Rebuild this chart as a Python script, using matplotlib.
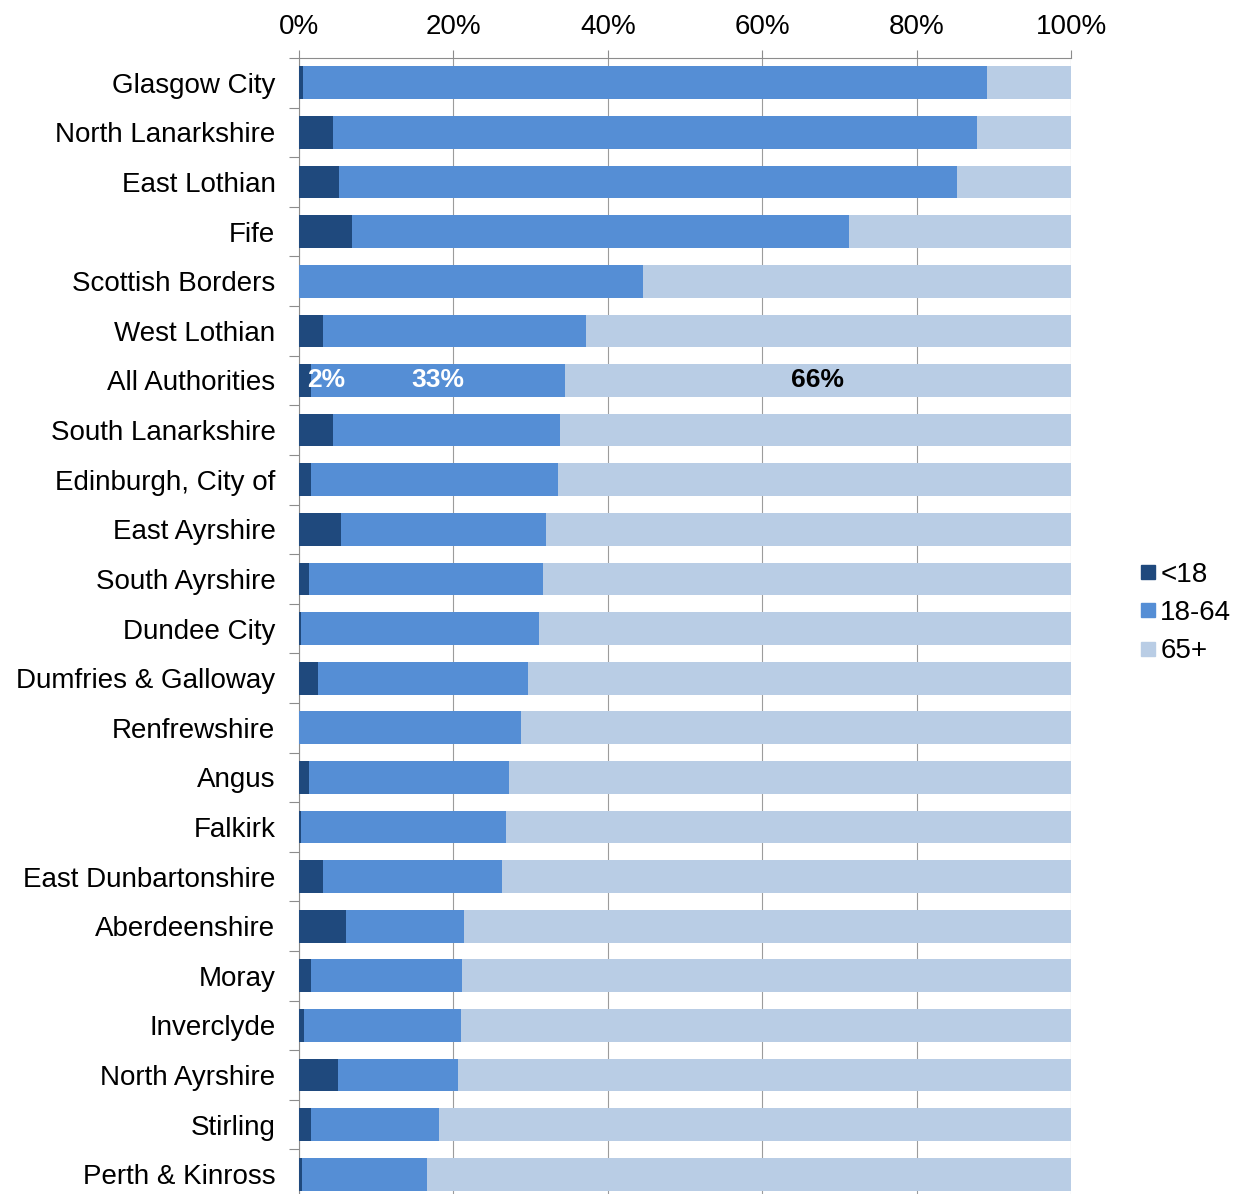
import matplotlib.pyplot as plt
from matplotlib.lines import Line2D
import numpy as np

plt.rcParams['font.family'] = ['Liberation Sans', 'DejaVu Sans']

# local authorities, sorted by share of 18-64
authorities = ['Glasgow City', 'North Lanarkshire', 'East Lothian', 'Fife',
               'Scottish Borders', 'West Lothian', 'All Authorities',
               'South Lanarkshire', 'Edinburgh, City of', 'East Ayrshire',
               'South Ayrshire', 'Dundee City', 'Dumfries & Galloway',
               'Renfrewshire', 'Angus', 'Falkirk', 'East Dunbartonshire',
               'Aberdeenshire', 'Moray', 'Inverclyde', 'North Ayrshire',
               'Stirling', 'Perth & Kinross']

# percentage shares by age group
under_18 = [0.5, 4.4, 5.2, 6.9, 0.0, 3.1, 1.6, 4.4, 1.6, 5.4, 1.3, 0.2,
            2.4, 0.0, 1.3, 0.2, 3.1, 6.1, 1.5, 0.6, 5.0, 1.5, 0.4]
age_18_64 = [88.6, 83.4, 80.0, 64.3, 44.6, 34.1, 32.8, 29.4, 31.9, 26.6,
             30.3, 30.9, 27.3, 28.8, 25.9, 26.6, 23.2, 15.3, 19.6, 20.4,
             15.6, 16.6, 16.2]
over_65 = [10.9, 12.2, 14.8, 28.8, 55.4, 62.8, 65.6, 66.2, 66.5, 68.0,
           68.4, 68.9, 70.3, 71.2, 72.8, 73.2, 73.7, 78.6, 78.9, 79.0,
           79.4, 81.9, 83.4]

groups = ['<18', '18-64', '65+']
colours = ['#1F497D', '#558ED5', '#B9CDE5']

u18 = np.array(under_18)
mid = np.array(age_18_64)
old = np.array(over_65)
y = np.arange(len(authorities))

fig = plt.figure(figsize=(12.44, 11.94), dpi=100)
ax = fig.add_axes([0.2404, -0.0042, 0.6206, 0.9556])

h = 0.66
ax.barh(y, u18, height=h, color=colours[0], zorder=3)
ax.barh(y, mid, left=u18, height=h, color=colours[1], zorder=3)
ax.barh(y, old, left=u18 + mid, height=h, color=colours[2], zorder=3)

ax.set_xlim(0, 100)
ax.set_ylim(len(authorities) - 0.5, -0.5)

# x axis on top
ax.xaxis.tick_top()
ax.set_xticks(np.arange(0, 101, 20))
ax.set_xticklabels([f'{v}%' for v in range(0, 101, 20)], fontsize=20)
ax.tick_params(axis='x', length=6, width=0.8, color='#8C8C8C', pad=7)
ax.grid(axis='x', color='#9C9C9C', linewidth=0.8, zorder=0)

# category ticks between bars, labels on bar centres
ax.set_yticks(np.arange(-0.5, len(authorities), 1))
ax.set_yticklabels([])
ax.set_yticks(y, minor=True)
ax.set_yticklabels(authorities, minor=True, fontsize=20)
ax.tick_params(axis='y', which='major', length=7, width=0.8, color='#8C8C8C')
ax.tick_params(axis='y', which='minor', length=0, pad=17)

for s in ['right', 'bottom']:
    ax.spines[s].set_visible(False)
for s in ['left', 'top']:
    ax.spines[s].set_color('#8C8C8C')
    ax.spines[s].set_linewidth(0.8)

# value labels on the overall row
i = authorities.index('All Authorities')
ax.text(1.0, i, f'{u18[i]:.0f}%', ha='left', va='center', color='white',
        fontsize=19, fontweight='bold', zorder=4)
ax.text(u18[i] + mid[i] / 2, i, f'{mid[i]:.0f}%', ha='center', va='center',
        color='white', fontsize=19, fontweight='bold', zorder=4)
ax.text(u18[i] + mid[i] + old[i] / 2, i, f'{old[i]:.0f}%', ha='center',
        va='center', color='black', fontsize=19, fontweight='bold', zorder=4)

handles = [Line2D([], [], marker='s', linestyle='none', markersize=10,
                  markerfacecolor=c, markeredgecolor=c) for c in colours]
fig.legend(handles, groups, loc='center left', bbox_to_anchor=(0.917, 0.4865),
           frameon=False, fontsize=20, handlelength=0.5, handletextpad=0.2,
           labelspacing=0.44, borderaxespad=0, borderpad=0)

fig.savefig('out.png', dpi=100)
